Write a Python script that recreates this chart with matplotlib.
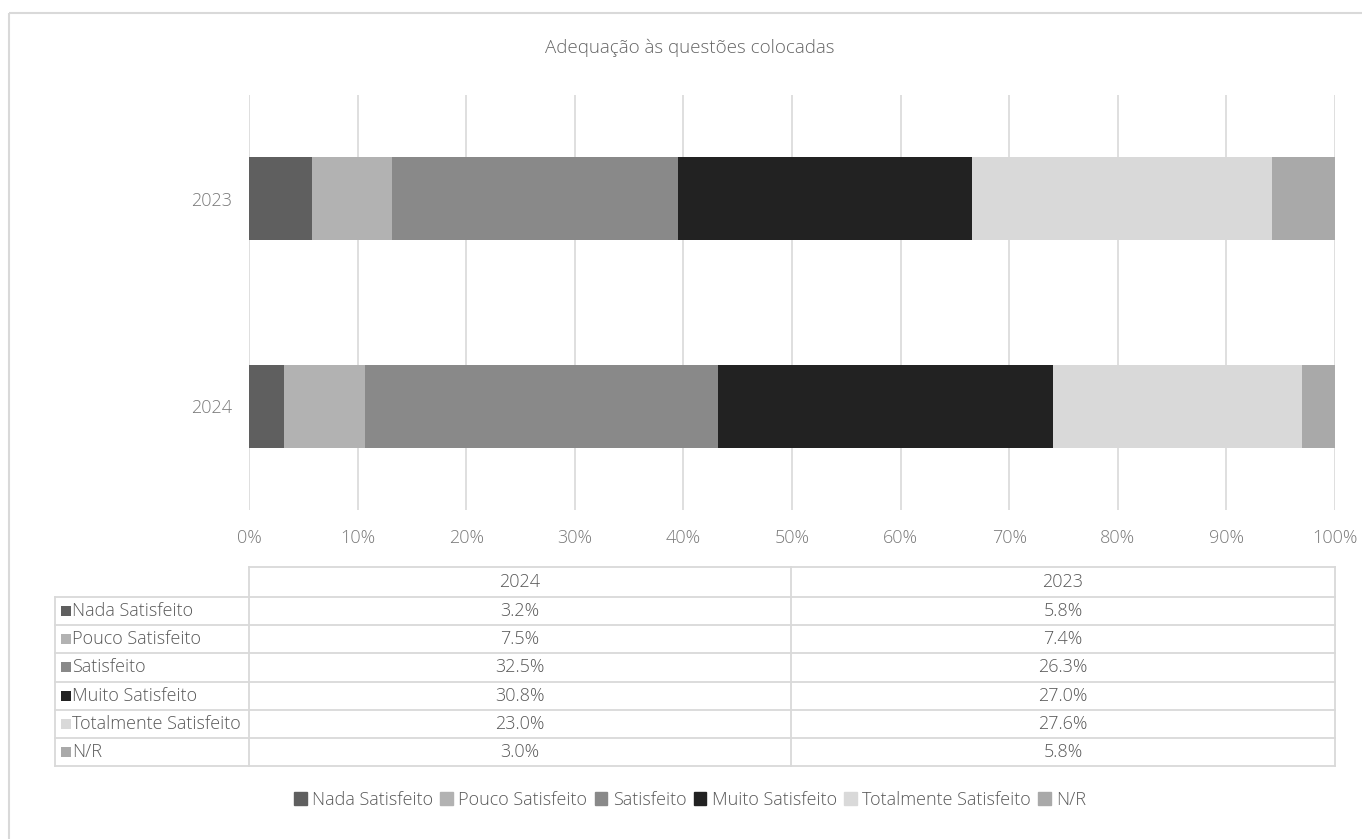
import matplotlib
matplotlib.use("Agg")
import matplotlib.pyplot as plt
from matplotlib.patches import Rectangle, Patch
from matplotlib.lines import Line2D
from matplotlib.ticker import FuncFormatter

plt.rcParams['font.family'] = ['Open Sans', 'DejaVu Sans']
plt.rcParams['font.weight'] = 300

title = "Adequação às questões colocadas"
years = ["2024", "2023"]
categories = ["Nada Satisfeito", "Pouco Satisfeito", "Satisfeito",
              "Muito Satisfeito", "Totalmente Satisfeito", "N/R"]
values_2024 = [3.2, 7.5, 32.5, 30.8, 23.0, 3.0]
values_2023 = [5.8, 7.4, 26.3, 27.0, 27.6, 5.8]
colors = ["#5f5f5f", "#b2b2b2", "#898989", "#222222", "#d9d9d9", "#a9a9a9"]
xticks = list(range(0, 101, 10))

TEXT = "#595959"
GRID = "#d9d9d9"
FS = 13

W, H = 1362, 839
fig = plt.figure(figsize=(W / 100, H / 100), dpi=100)

def fx(px):
    return px / W

def fy(py):
    return 1 - py / H

# Plot area
ax = fig.add_axes([fx(249), fy(510), fx(1335) - fx(249), fy(95) - fy(510)])
series = {"2024": values_2024, "2023": values_2023}
ypos = {y: i for i, y in enumerate(years)}
for j, cat in enumerate(categories):
    lefts, widths, ys = [], [], []
    for y in years:
        vals = series[y]
        total = sum(vals)
        lefts.append(sum(vals[:j]) / total * 100)
        widths.append(vals[j] / total * 100)
        ys.append(ypos[y])
    ax.barh(ys, widths, left=lefts, height=0.4, color=colors[j],
            label=cat, zorder=3)

ax.set_xlim(0, 100)
ax.set_ylim(-0.5, 1.5)
ax.set_xticks(xticks)
ax.xaxis.set_major_formatter(FuncFormatter(lambda v, p: f"{v:.0f}%"))
ax.set_yticks([ypos[y] for y in years])
ax.set_yticklabels(years)
ax.grid(axis="x", color=GRID, lw=1.2, zorder=0)
ax.tick_params(length=0, labelsize=FS, labelcolor="#7a7a7a")
ax.tick_params(axis="x", pad=14)
ax.tick_params(axis="y", pad=12)
for s in ax.spines.values():
    s.set_visible(False)

fig.text(fx(690), fy(48), title, ha="center", va="center", fontsize=13.5,
         color="#666666")

# Outer frame
ov = fig.add_axes([0, 0, 1, 1], zorder=-1)
ov.set_xlim(0, W)
ov.set_ylim(H, 0)
ov.axis("off")
ov.add_patch(Rectangle((9, 13), W + 20, H + 20, fill=False, ec=GRID, lw=1.5))

# Data table under the chart
tab = fig.add_axes([0, 0, 1, 1])
tab.set_xlim(0, W)
tab.set_ylim(H, 0)
tab.axis("off")
tab.patch.set_alpha(0)

col_x = [55, 249, 791, 1335]
head_top, head_bot = 567, 597
row_h = (766 - 597) / len(categories)
rows_y = [head_bot + i * row_h for i in range(len(categories) + 1)]
lc = dict(color=GRID, lw=1.3)
tab.add_line(Line2D([col_x[1], col_x[3]], [head_top, head_top], **lc))
for x in col_x[1:]:
    tab.add_line(Line2D([x, x], [head_top, rows_y[-1]], **lc))
tab.add_line(Line2D([col_x[0], col_x[0]], [head_bot, rows_y[-1]], **lc))
for y in rows_y:
    tab.add_line(Line2D([col_x[0], col_x[3]], [y, y], **lc))

table_cols = [("2024", values_2024), ("2023", values_2023)]
for k, (yr, vals) in enumerate(table_cols):
    cx = (col_x[k + 1] + col_x[k + 2]) / 2
    tab.text(cx, (head_top + head_bot) / 2, yr, ha="center", va="center",
             fontsize=FS, color=TEXT)
    for i, v in enumerate(vals):
        tab.text(cx, (rows_y[i] + rows_y[i + 1]) / 2, f"{v:.1f}%",
                 ha="center", va="center", fontsize=FS, color=TEXT)
for i, cat in enumerate(categories):
    ym = (rows_y[i] + rows_y[i + 1]) / 2
    tab.add_patch(Rectangle((61, ym - 5), 10, 10, color=colors[i], lw=0))
    tab.text(72, ym, cat, ha="left", va="center", fontsize=FS, color=TEXT)

fig.legend(handles=[Patch(color=c) for c in colors], labels=categories,
           loc="center", bbox_to_anchor=(fx(690), fy(800)), ncol=6,
           frameon=False, fontsize=FS, labelcolor=TEXT,
           handlelength=0.7, handleheight=0.7, handletextpad=0.3,
           columnspacing=0.4)

fig.savefig("out.png", dpi=100)
